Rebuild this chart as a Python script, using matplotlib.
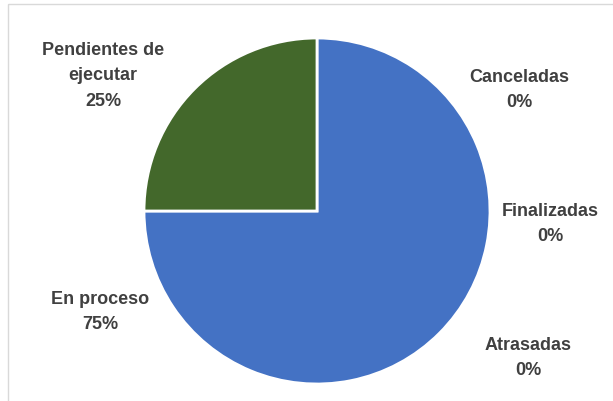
import matplotlib.pyplot as plt
from matplotlib.patches import Rectangle

# datos del gráfico
categorias = ['Canceladas', 'Finalizadas', 'Atrasadas', 'En proceso', 'Pendientes de\nejecutar']
porcentajes = [0, 0, 0, 75, 25]
colores = ['#ED7D31', '#A5A5A5', '#FFC000', '#4472C4', '#43682B']

# posiciones de las etiquetas (en píxeles)
pos_etiquetas = [(519, 90), (550, 224), (528, 358), (100, 312), (103, 76)]

W, H = 613, 402
fig = plt.figure(figsize=(W / 100, H / 100), dpi=100)
ax = fig.add_axes([0, 0, 1, 1])

# el eje y está invertido: startangle=-90 es arriba y counterclock=True gira en sentido horario
ax.pie(porcentajes, colors=colores, startangle=-90, counterclock=True,
       center=(317, 212), radius=173,
       wedgeprops=dict(edgecolor='white', linewidth=2))

ax.set_xlim(0, W)
ax.set_ylim(H, 0)
ax.set_aspect('equal')
ax.axis('off')

# borde del área del gráfico
ax.add_patch(Rectangle((8, 5), W, H, fill=False, edgecolor='#D9D9D9', linewidth=1))

fuente = ['Liberation Sans Narrow', 'Liberation Sans', 'DejaVu Sans']
for cat, val, (x, y) in zip(categorias, porcentajes, pos_etiquetas):
    ax.text(x, y, f'{cat}\n{val}%', ha='center', va='center', fontsize=13,
            fontweight='bold', color='#404040', family=fuente, linespacing=1.65)

fig.savefig('out.png', dpi=100)
